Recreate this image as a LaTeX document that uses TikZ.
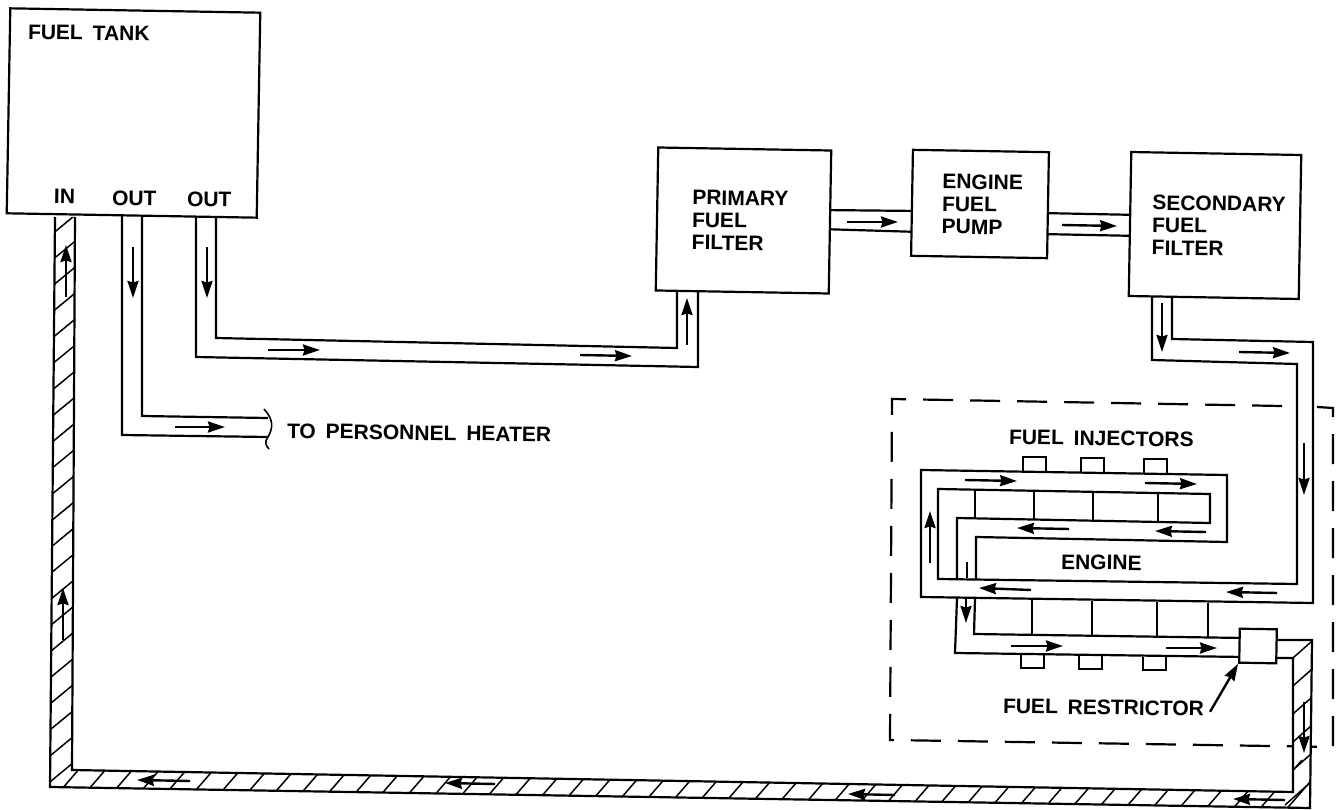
\documentclass[tikz,border=0pt]{standalone}
\usepackage{fontspec}
\setmainfont[WordSpace=1.7]{Liberation Sans}
\usetikzlibrary{arrows.meta}
\tikzset{
	unitbox/.style={draw, fill=white, inner sep=0pt, rotate=-1},
	pipeline/.style={line join=miter},
	flowarrow/.style={line width=2.4pt, -{Stealth[length=17pt, width=11pt, inset=1.5pt]}},
	partlabel/.style={anchor=west, inner sep=0pt, align=left, rotate=-0.8, font=\fontsize{21}{22.5}\selectfont\bfseries}
}
\begin{document}
\begin{tikzpicture}[x=1pt, y=-1pt, line width=2.2pt]
	\useasboundingbox (0,0) rectangle (1344,810);
	\fill[white] (0,0) rectangle (1344,810);
	% engine outline
	\draw[dashed, dash pattern=on 30pt off 17pt] (1282,406) -- (892,399) -- (890,740) -- (1333,747) -- (1333,408) -- (1317,407);
	% return line with hatching
	\fill[white] (55,217) -- (75,217) -- (72,770) -- (1293,792) -- (1293,658) -- (1277,658) -- (1277,640) -- (1312,640) -- (1310,808) -- (50,787) -- cycle;
	\begin{scope}
		\clip (55,217) -- (75,217) -- (72,770) -- (1293,792) -- (1293,658) -- (1277,658) -- (1277,640) -- (1312,640) -- (1310,808) -- (50,787) -- cycle;
		\foreach \y in {240,266,...,790} \draw[line width=1.5pt] (45,\y) -- (85,{\y-33});
		\foreach \x in {35,62,...,1300} \draw[line width=1.5pt] (\x,820) -- ({\x+52},760);
		\foreach \y in {665,693,...,810} \draw[line width=1.5pt] (1285,\y) -- (1320,{\y-31});
	\end{scope}
	\draw[pipeline] (55,217) -- (50,787) -- (1310,808) -- (1312,640) -- (1277,640);
	\draw[pipeline] (75,217) -- (72,770) -- (1293,792) -- (1293,658) -- (1277,658);
	% supply lines
	\draw[pipeline] (122,210) -- (122,435) -- (268,437);
	\draw[pipeline] (142,210) -- (142,416) -- (268,418);
	\draw[line width=1.6pt] (264,409) .. controls (274,420) and (273,428) .. (268,437) .. controls (264,442) and (266,446) .. (269,449);
	\draw[pipeline] (216,210) -- (216,338) -- (677,348) -- (677,285);
	\draw[pipeline] (196,210) -- (196,357) -- (698,367) -- (698,285);
	\draw (820,210) -- (920,211) (820,229) -- (920,232);
	\draw (1040,213) -- (1140,215) (1040,234) -- (1140,236);
	\draw[pipeline] (1172,290) -- (1172,339) -- (1313,342) -- (1313,603) -- (921,597) -- (921,470) -- (1227,475) -- (1227,542) -- (976,537) -- (976,579);
	\draw[pipeline] (1152,290) -- (1152,360) -- (1297,364) -- (1297,584) -- (938,579) -- (938,489) -- (1210,494) -- (1210,523) -- (957,518) -- (957,578);
	\draw[pipeline] (957,598) -- (955,653) -- (1245,657);
	\draw[pipeline] (975,599) -- (974,634) -- (1245,638);
	% cylinders and injectors
	\foreach \x/\ya/\yb in {975/491/518, 1034/492/519, 1093/493/520, 1158/494/521, 1032/600/634, 1092/601/635, 1157/602/636, 1208/603/637} \draw (\x,\ya) -- (\x,\yb);
	\foreach \x/\y in {1023/471, 1081/472, 1144/473} \draw (\x,\y) -- (\x,{\y-14}) -- ({\x+23},{\y-14}) -- ({\x+23},\y);
	\foreach \x/\y in {1021/655, 1079/656, 1143/657} \draw (\x,\y) -- (\x,{\y+13}) -- ({\x+23},{\y+13}) -- ({\x+23},\y);
	\draw (967,562) -- (967,578);
	% units
	\node[unitbox, minimum width=250pt, minimum height=205pt] (tank) at (133.5,113) {};
	\node[unitbox, minimum width=173pt, minimum height=143pt] (primary) at (743.5,220.5) {};
	\node[unitbox, minimum width=136pt, minimum height=106pt] (pump) at (980,204) {};
	\node[unitbox, minimum width=170pt, minimum height=144pt] (secondary) at (1215,225.5) {};
	\node[unitbox, minimum width=37pt, minimum height=34pt] (restrictor) at (1258,646) {};
	% labels
	\node[partlabel] (tanktxt) at (27,32) {FUEL TANK};
	\node[partlabel] (intxt) at (53,196) {IN};
	\node[partlabel] (outa) at (111,198) {OUT};
	\node[partlabel] (outb) at (186,199) {OUT};
	\node[partlabel] (heatertxt) at (286,431) {TO PERSONNEL HEATER};
	\node[partlabel] (primarytxt) at (691,220) {PRIMARY\\FUEL\\FILTER};
	\node[partlabel] (pumptxt) at (941,204) {ENGINE\\FUEL\\PUMP};
	\node[partlabel] (secondarytxt) at (1151,225) {SECONDARY\\FUEL\\FILTER};
	\node[partlabel] (injtxt) at (1008,437) {FUEL INJECTORS};
	\node[partlabel] (enginetxt) at (1060,562) {ENGINE};
	\node[partlabel] (restrictortxt) at (1002,706) {FUEL RESTRICTOR};
	\draw[flowarrow] (restrictortxt.east) ++(5,3) -- (restrictor.south west);
	% flow arrows
	\foreach \xa/\ya/\xb/\yb in {66/297/66/245, 63/640/63/588, 133/247/133/298, 207/247/207/298, 175/427/225/427, 268/350/320/350, 580/355/632/356, 687/345/687/298, 847/222/898/222, 1062/225/1117/226, 1162/303/1162/352, 1239/352/1290/353, 1304/443/1304/495, 965/480/1017/481, 1145/483/1197/484, 1069/529/1017/528, 1206/532/1155/531, 930/563/930/511, 1277/593/1226/592, 1031/590/979/588, 966/598/966/623, 1011/646/1063/646, 1166/648/1217/648, 1304/702/1304/753, 1285/800/1233/799, 190/781/137/780, 495/784/445/783, 895/795/848/794} \draw[flowarrow] (\xa,\ya) -- (\xb,\yb);
\end{tikzpicture}
\end{document}
